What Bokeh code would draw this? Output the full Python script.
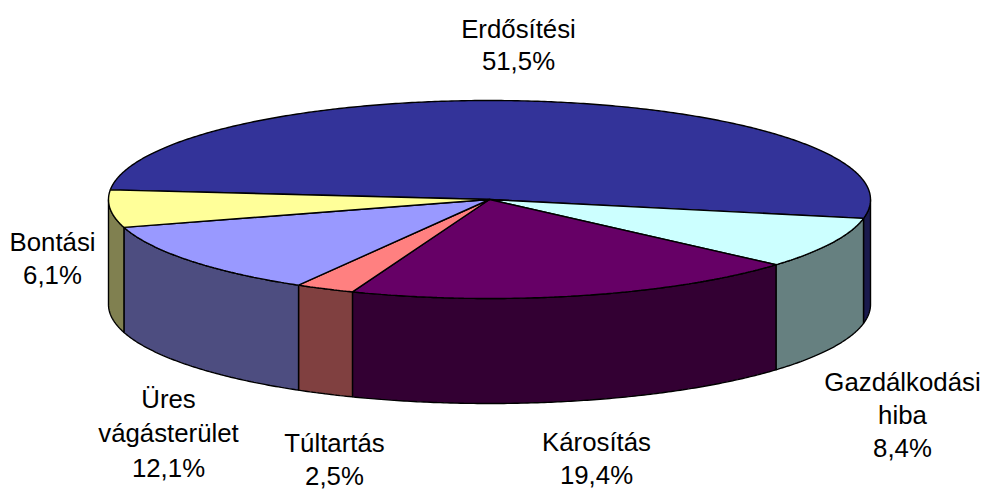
import math
from bokeh.plotting import figure
from bokeh.models import Range1d
from bokeh.core.properties import value
from bokeh.embed import file_html
from bokeh.resources import INLINE

categories = ["Erdősítési", "Gazdálkodási hiba", "Károsítás", "Túltartás", "Üres vágásterület", "Bontási"]
shares = [51.5, 8.4, 19.4, 2.5, 12.1, 6.1]
value_labels = ["51,5%", "8,4%", "19,4%", "2,5%", "12,1%", "6,1%"]
top_colors = ["#333399", "#CCFFFF", "#660066", "#FF8080", "#9999FF", "#FFFF99"]
side_colors = ["#1A1A4D", "#668080", "#330033", "#804040", "#4D4D80", "#808050"]
label_lines = [["Erdősítési", "51,5%"], ["Gazdálkodási", "hiba", "8,4%"], ["Károsítás", "19,4%"],
               ["Túltartás", "2,5%"], ["Üres", "vágásterület", "12,1%"], ["Bontási", "6,1%"]]
label_pos = [(518, 28), (902, 381), (596, 441), (334, 442), (168, 398), (52, 241)]
line_heights = [32, 33, 33, 33, 34.5, 33]

CX, CY, RX, RY, DEPTH = 489.0, 199.0, 381.0, 99.0, 105.0
START = -84.4

def pt(a, dy=0.0):
    r = math.radians(a)
    return CX + RX * math.sin(r), CY + RY * -math.cos(r) + dy

p = figure(width=984, height=490, output_backend="svg", toolbar_location=None,
           x_range=Range1d(0, 984), y_range=Range1d(490, 0), min_border=0)
p.axis.visible = False
p.grid.visible = False
p.outline_line_color = None

total = sum(shares)
spans = []
a = START
for s in shares:
    b = a + s / total * 360
    spans.append((a, b))
    a = b

# side walls: only the front part (90..270 clockwise from north) is visible
for (a0, a1), c in zip(spans, side_colors):
    lo, hi = max(a0, 90), min(a1, 270)
    if hi <= lo:
        continue
    n = max(2, int(hi - lo) * 2)
    angs = [lo + (hi - lo) * i / n for i in range(n + 1)]
    upper = [pt(t) for t in angs]
    lower = [pt(t, DEPTH) for t in reversed(angs)]
    poly = upper + lower
    p.patch([q[0] for q in poly], [q[1] for q in poly], fill_color=c, line_color="black", line_width=1.4)

# top faces
for (a0, a1), c in zip(spans, top_colors):
    n = max(2, int(a1 - a0) * 2)
    angs = [a0 + (a1 - a0) * i / n for i in range(n + 1)]
    poly = [(CX, CY)] + [pt(t) for t in angs]
    p.patch([q[0] for q in poly], [q[1] for q in poly], fill_color=c, line_color="black", line_width=1.4)

xs, ys, ts = [], [], []
for lines, (lx, ly), lh in zip(label_lines, label_pos, line_heights):
    for i, t in enumerate(lines):
        xs.append(lx); ys.append(ly + i * lh); ts.append(t)
p.text(xs, ys, text=ts, text_align="center", text_baseline="middle", text_color="black",
       text_font=value("Liberation Sans"), text_font_size="25.8px")

open("out.html", "w").write(file_html(p, INLINE))
